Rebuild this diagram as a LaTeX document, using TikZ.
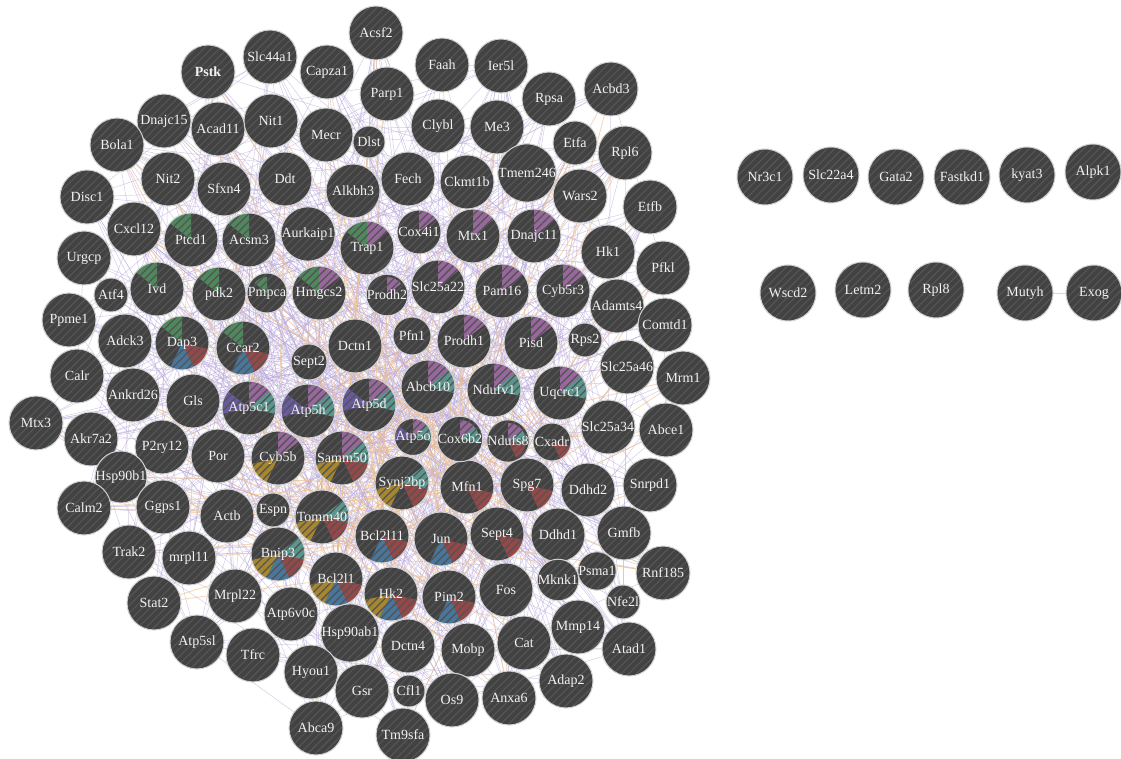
\documentclass[tikz,border=0pt]{standalone}
\usepackage{fontspec}
\setmainfont{Liberation Serif}
\usetikzlibrary{patterns.meta,backgrounds}
\definecolor{GeneFill}{RGB}{66,66,66}
\definecolor{GeneStripe}{RGB}{84,84,84}
\definecolor{GeneRim}{RGB}{210,210,210}
\definecolor{GeneText}{RGB}{242,242,242}
\definecolor{PieMauve}{RGB}{152,104,156}
\definecolor{PieTeal}{RGB}{88,150,142}
\definecolor{PieRed}{RGB}{150,72,72}
\definecolor{PieBlue}{RGB}{72,118,156}
\definecolor{PieGold}{RGB}{166,134,46}
\definecolor{PieViolet}{RGB}{104,90,156}
\definecolor{PieGreen}{RGB}{78,136,92}
\definecolor{EdgeLilac}{RGB}{185,168,218}
\definecolor{EdgeOrange}{RGB}{242,192,135}
\definecolor{EdgeGray}{RGB}{215,215,215}

\begin{document}
\begin{tikzpicture}[
    x=1pt,y=1pt,
    gene/.style={
      circle,inner sep=0pt,fill=GeneFill,text=GeneText,
      font=\fontsize{14}{14}\selectfont,
      postaction={pattern={Lines[angle=45,distance=5.5pt,line width=1.3pt]},
        pattern color=GeneStripe},
      postaction={draw=GeneRim,line width=1pt}
    },
    pie/.style={path picture={
      \foreach \k in \s {
        \fill[slice\k] (path picture bounding box.center)
          -- ++({90-51.43*\k}:\r pt)
          arc[start angle={90-51.43*\k},delta angle=-51.43,radius=\r pt]
          -- cycle;
      }}},
    slice0/.style={fill=PieMauve},
    slice1/.style={fill=PieTeal},
    slice2/.style={fill=PieRed},
    slice3/.style={fill=PieBlue},
    slice4/.style={fill=PieGold},
    slice5/.style={fill=PieViolet},
    slice6/.style={fill=PieGreen},
    edge/.style={EdgeLilac,line width=0.5pt,opacity=0.6},
    hotedge/.style={EdgeOrange,line width=0.9pt,opacity=0.6}
  ]
  \useasboundingbox (0,0) rectangle (1121,758);

  % genes with annotation pies
  \foreach \n/\x/\y/\r/\s [count=\i] in {
      Bcl2l1/336/579/27/{2,3,4}, Hk2/391/594/27/{2,3,4},
      Jun/441/539/27/{2,3}, Bnip3/278/554/27/{1,2,3,4},
      Tomm40/322/517/27/{1,2,4}, Bcl2l11/382/536/27/{2,3},
      Pim2/449/597/27/{2,3}, Sept4/497/534/27/{2},
      Samm50/342/458/27/{0,1,2,4}, Synj2bp/402/483/27/{1,2,4},
      Cyb5b/278/458/27/{0,4}, Mfn1/467/487/27/{2},
      Spg7/527/485/27/{2}, Dap3/182/343/27/{2,3,6},
      Ccar2/243/348/27/{2,3,6}, Atp5c1/249/408/27/{0,1,5},
      Atp5h/308/411/27/{0,1,5}, Atp5d/369/405/27/{0,1,5},
      Abcb10/428/387/27/{0,1}, Ndufv1/494/390/27/{0,1},
      Uqcrc1/560/393/27/{0,1}, Atp5o/413/437/18/{0,1,5},
      Cox6b2/460/439/19/{0,1}, Ndufs8/508/441/18/{0,1,2},
      Cxadr/552/442/19/{2}, Ptcd1/191/240/27/{6},
      Acsm3/249/240/27/{6}, Trap1/367/248/27/{0,6},
      Cox4i1/419/232/22/{0}, Mtx1/473/236/27/{0},
      Dnajc11/534/236/27/{0}, Ivd/157/289/27/{6},
      pdk2/219/294/27/{6}, Pmpca/267/293/16/{6},
      Hmgcs2/319/293/27/{0,6}, Prodh2/387/295/18/{0},
      Slc25a22/438/287/27/{0}, Pam16/502/291/27/{0},
      Cyb5r3/563/291/27/{0}, Prodh1/464/341/27/{0},
      Pisd/531/343/27/{0}}
    \node[gene,pie,minimum size=2*\r pt,alias=n\i] (\n) at (\x,{758-\y}) {\n};

  % plain genes
  \foreach \n/\x/\y/\r [count=\i from 42] in {
      Slc44a1/270/57/27, Capza1/327/72/27, Acsf2/376/33/27,
      Faah/442/65/27, Ier5l/501/66/27, Parp1/387/94/27,
      Rpsa/549/99/27, Acbd3/611/89/27, Dnajc15/164/121/27,
      Acad11/218/129/27, Nit1/271/121/27, Mecr/326/135/27,
      Dlst/369/142/16, Clybl/438/126/27, Me3/497/127/27,
      Etfa/575/143/22, Rpl6/625/153/27, Bola1/117/145/27,
      Nit2/168/179/27, Sfxn4/224/189/27, Ddt/285/179/27,
      Alkbh3/353/191/27, Fech/408/179/27, Ckmt1b/467/182/27,
      Tmem246/527/173/27, Wars2/580/196/27, Etfb/650/207/27,
      Disc1/87/197/27, Cxcl12/134/229/27, Aurkaip1/308/234/27,
      Hk1/608/252/27, Urgcp/84/258/27, Atf4/111/295/17,
      Pfkl/663/268/27, Ppme1/69/320/27, Adamts4/617/306/27,
      Comtd1/665/325/27, Adck3/125/341/27, Pfn1/412/336/19,
      Rps2/585/340/17, Sept2/309/362/18, Dctn1/355/346/27,
      Slc25a46/627/367/27, Mrm1/683/378/27, Calr/77/376/27,
      Ankrd26/133/395/27, Gls/193/401/27, Slc25a34/608/427/27,
      Abce1/666/430/27, Mtx3/36/423/27, Akr7a2/91/439/27,
      P2ry12/162/447/27, Por/218/456/27, Hsp90b1/121/477/17,
      Ddhd2/588/490/27, Snrpd1/650/485/27, Calm2/84/508/27,
      Ggps1/163/507/27, Actb/227/516/27, Espn/273/510/17,
      Ddhd1/558/535/27, Gmfb/624/533/27, Trak2/129/552/27,
      mrpl11/189/558/27, Psma1/597/571/17, Mknk1/558/580/19,
      Rnf185/663/573/27, Fos/506/590/27, Nfe2l/623/602/17,
      Stat2/154/603/27, Mrpl22/235/596/27, Atp6v0c/291/614/27,
      Hsp90ab1/350/633/27, Mmp14/578/627/27, Atad1/629/649/27,
      Atp5sl/197/642/27, Tfrc/253/655/27, Dctn4/408/646/27,
      Mobp/468/650/27, Cat/524/643/27, Hyou1/311/672/27,
      Gsr/362/691/27, Cfl1/409/691/16, Os9/452/700/27,
      Anxa6/509/698/27, Adap2/566/681/27, Abca9/316/728/27,
      Tm9sfa/403/735/27}
    \node[gene,minimum size=2*\r pt,alias=n\i] (\n) at (\x,{758-\y}) {\n};
  \node[gene,minimum size=54pt,font=\bfseries\fontsize{14}{14}\selectfont,
    alias=n130] (Pstk) at (208,{758-72}) {Pstk};

  % genes outside the network
  \foreach \n/\x/\y in {
      Nr3c1/765/177, Slc22a4/831/175, Gata2/896/177, Fastkd1/962/177,
      kyat3/1027/175, Alpk1/1093/172, Wscd2/788/293, Letm2/863/290,
      Rpl8/936/290, Mutyh/1025/293, Exog/1094/293}
    \node[gene,minimum size=56pt] (\n) at (\x,{758-\y}) {\n};

  \begin{scope}[on background layer]
    \pgfmathsetseed{2718}
    \foreach \k in {1,...,650} {
      \pgfmathtruncatemacro\a{random(1,130)}
      \pgfmathtruncatemacro\b{random(1,130)}
      \draw[edge] (n\a) -- (n\b);
    }
    % denser mesh among the annotated genes
    \foreach \k in {1,...,300} {
      \pgfmathtruncatemacro\a{random(1,41)}
      \pgfmathtruncatemacro\b{random(1,130)}
      \draw[edge] (n\a) -- (n\b);
    }
    \foreach \k in {1,...,160} {
      \pgfmathtruncatemacro\a{random(1,13)}
      \pgfmathtruncatemacro\b{random(1,130)}
      \draw[hotedge] (n\a) -- (n\b);
    }
    \draw[EdgeGray,line width=0.8pt] (Mutyh) -- (Exog);
  \end{scope}
\end{tikzpicture}
\end{document}
